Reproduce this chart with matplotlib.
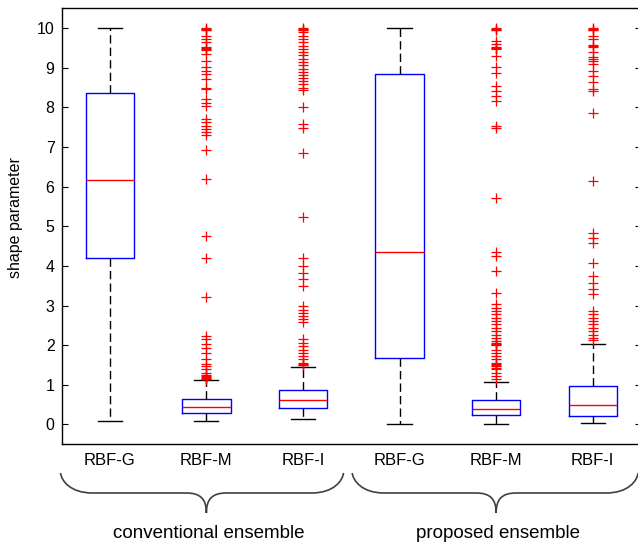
import numpy as np
import matplotlib
matplotlib.use('Agg')
import matplotlib.pyplot as plt
from matplotlib.path import Path
from matplotlib.patches import PathPatch

plt.rcParams['font.family'] = ['Liberation Sans', 'DejaVu Sans']

# box labels and groups
labels = ['RBF-G', 'RBF-M', 'RBF-I', 'RBF-G', 'RBF-M', 'RBF-I']
groups = ['conventional ensemble', 'proposed ensemble']

# box statistics
whislo = [0.10, 0.10, 0.15, 0.02, 0.02, 0.04]
q1 = [4.19, 0.29, 0.42, 1.67, 0.24, 0.21]
med = [6.18, 0.45, 0.61, 4.35, 0.40, 0.50]
q3 = [8.36, 0.65, 0.87, 8.85, 0.61, 0.97]
whishi = [10.0, 1.12, 1.45, 10.0, 1.08, 2.04]

# outliers
fl_conv_g = []
fl_conv_m = [10.0, 9.98, 9.96, 9.94, 9.81, 9.72, 9.64, 9.52, 9.50, 9.48, 9.45, 9.34,
             9.18, 9.01, 8.92, 8.84, 8.71, 8.50, 8.46, 8.21, 8.12, 8.04, 7.70, 7.62,
             7.53, 7.45, 7.37, 7.30, 6.93, 6.19, 4.76, 4.21, 3.22, 2.23, 2.15, 2.02,
             1.94, 1.81, 1.64, 1.52, 1.47, 1.39, 1.30, 1.26, 1.22, 1.20, 1.18, 1.16, 1.14]
fl_conv_i = [10.0, 9.98, 9.96, 9.94, 9.90, 9.81, 9.72, 9.64, 9.55, 9.48, 9.40, 9.32,
             9.22, 9.15, 9.06, 8.98, 8.90, 8.82, 8.74, 8.66, 8.58, 8.50, 8.45, 8.0,
             7.58, 7.49, 6.86, 5.24, 4.21, 4.0, 3.83, 3.68, 3.49, 2.99, 2.90, 2.82,
             2.74, 2.65, 2.58, 2.15, 2.06, 1.98, 1.89, 1.81, 1.73, 1.64, 1.56, 1.53,
             1.51, 1.49]
fl_prop_g = []
fl_prop_m = [10.0, 9.98, 9.96, 9.94, 9.68, 9.60, 9.53, 9.51, 9.49, 9.47, 9.30, 9.01,
             8.88, 8.53, 8.42, 8.29, 8.17, 7.53, 7.49, 5.71, 4.34, 4.25, 3.87, 3.32,
             3.03, 2.95, 2.86, 2.78, 2.69, 2.61, 2.53, 2.44, 2.36, 2.27, 2.19, 2.10,
             2.06, 2.04, 2.02, 2.0, 1.89, 1.81, 1.73, 1.64, 1.56, 1.52, 1.50, 1.47,
             1.43, 1.39, 1.30, 1.22, 1.15]
fl_prop_i = [10.0, 9.98, 9.96, 9.94, 9.81, 9.72, 9.57, 9.55, 9.53, 9.39, 9.26, 9.22,
             9.18, 9.09, 8.92, 8.80, 8.63, 8.46, 8.42, 7.85, 6.14, 4.84, 4.71, 4.59,
             4.08, 3.75, 3.58, 3.41, 3.28, 2.86, 2.78, 2.69, 2.61, 2.53, 2.44, 2.36,
             2.27, 2.19, 2.13]
fliers = [fl_conv_g, fl_conv_m, fl_conv_i, fl_prop_g, fl_prop_m, fl_prop_i]

W, H = 638, 548
fig = plt.figure(figsize=(W / 100, H / 100), dpi=100)
ax = fig.add_axes([61.5 / W, 1 - 444.3 / H, (641 - 61.5) / W, (444.3 - 8.3) / H])

stats = []
for i in range(len(labels)):
    stats.append(dict(med=med[i], q1=q1[i], q3=q3[i], whislo=whislo[i],
                      whishi=whishi[i], fliers=np.array(fliers[i]), label=labels[i]))

positions = np.arange(1, len(labels) + 1)
ax.bxp(stats, positions=positions, widths=0.5, capwidths=0.25,
       boxprops=dict(color='#0000ff', lw=1),
       medianprops=dict(color='#ff0000', lw=1),
       whiskerprops=dict(color='black', lw=1, linestyle=(0, (6, 3))),
       capprops=dict(color='black', lw=1),
       flierprops=dict(marker='+', markeredgecolor='#ff0000', markersize=7.5,
                       markeredgewidth=0.9, linestyle='none'))

ax.set_xlim(0.5, 6.5)
ax.set_ylim(-0.5, 10.5)
ax.set_yticks(range(0, 11))
ax.tick_params(axis='y', direction='in', length=4, right=True, labelsize=11.5, pad=5)
ax.tick_params(axis='x', length=0, labelsize=12, pad=6)
for s in ax.spines.values():
    s.set_linewidth(1)

fig.text(16 / W, 1 - 218 / H, 'shape parameter', rotation=90, ha='center',
         va='center', fontsize=11.5)

# curly braces under each group of three boxes
ov = fig.add_axes([0, 0, 1, 1])
ov.set_xlim(0, W)
ov.set_ylim(H, 0)
ov.axis('off')

def px(xd):
    return ax.transData.transform((xd, 0))[0]

def brace(x0, x1, xm, top=473, mid=493, tip=513):
    verts, codes = [], []
    for xe, d in ((x0, 1), (x1, -1)):
        verts += [(xe, top), (xe + d * 1, mid - 12), (xe + d * 10, mid), (xe + d * 32, mid),
                  (xm - d * 20, mid), (xm - d * 6, mid), (xm, mid + 6), (xm, tip)]
        codes += [Path.MOVETO, Path.CURVE4, Path.CURVE4, Path.CURVE4,
                  Path.LINETO, Path.CURVE4, Path.CURVE4, Path.CURVE4]
    ov.add_patch(PathPatch(Path(verts, codes), fill=False, edgecolor='#404040', lw=1.2))

spans = [(0.49, 3.42, 2), (3.51, 6.47, 5)]
for (a, b, m), g in zip(spans, groups):
    brace(px(a), px(b), px(m))
    ov.text(px(m) + 2, 534, g, ha='center', va='center', fontsize=13.5)

fig.savefig('out.png', dpi=100)
